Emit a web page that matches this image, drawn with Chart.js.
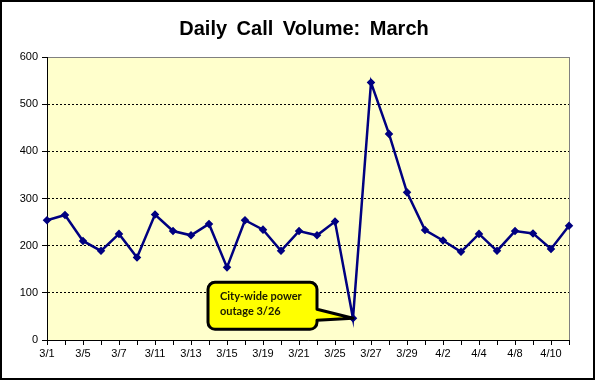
<!DOCTYPE html>
<html>
<head>
<meta charset="utf-8">
<script src="https://cdn.jsdelivr.net/npm/chart.js@4"></script>
<style>
  html, body { margin: 0; padding: 0; background: #fff; }
  #wrap { width: 596px; height: 381px; position: relative; }
</style>
</head>
<body>
<div id="wrap"><canvas id="callChart"></canvas></div>
<script>
// weekdays only, March 2013 into April
const dayLabels = [
  "3/1", "3/4", "3/5", "3/6", "3/7", "3/8", "3/11", "3/12", "3/13", "3/14",
  "3/15", "3/18", "3/19", "3/20", "3/21", "3/22", "3/25", "3/26", "3/27", "3/28",
  "3/29", "4/1", "4/2", "4/3", "4/4", "4/5", "4/8", "4/9", "4/10", "4/11"
];
const callVolume = [
  254, 265, 210, 189, 225, 175, 266, 231, 222, 246,
  154, 254, 234, 189, 231, 222, 251, 46, 546, 437,
  313, 233, 211, 187, 225, 189, 231, 226, 193, 242
];
const outageIndex = 17;
const noteLines = ["City-wide power", "outage 3/26"];
const yMin = 0, yMax = 600, yStep = 100;

const frame = {
  id: "frame",
  beforeDraw(chart) {
    const { ctx, chartArea: a } = chart;
    ctx.save();
    ctx.fillStyle = "#fff";
    ctx.fillRect(0, 0, chart.width, chart.height);
    ctx.fillStyle = "#FFFFCC";
    ctx.fillRect(a.left, a.top, a.right - a.left, a.bottom - a.top);
    ctx.strokeStyle = "#808080";
    ctx.lineWidth = 1;
    ctx.strokeRect(a.left + 0.5, a.top + 0.5, a.right - a.left, a.bottom - a.top);
    ctx.strokeStyle = "#000";
    ctx.lineWidth = 2;
    ctx.strokeRect(1, 1, 593, 378);
    ctx.restore();
    // Excel spreads the title words a little
    ctx.wordSpacing = "4px";
  },
  beforeDatasetsDraw(chart) {
    chart.ctx.wordSpacing = "0px";
  }
};

const callout = {
  id: "callout",
  afterDatasetsDraw(chart) {
    const pt = chart.getDatasetMeta(0).data[outageIndex];
    if (!pt) return;
    const { ctx } = chart;
    const px = pt.x, py = pt.y;
    const left = px - 145, right = px - 36, top = py - 36, bottom = py + 11, r = 7;
    ctx.save();
    ctx.beginPath();
    ctx.moveTo(left + r, top);
    ctx.lineTo(right - r, top);
    ctx.arcTo(right, top, right, top + r, r);
    ctx.lineTo(right, py - 9);
    ctx.lineTo(px, py);
    ctx.lineTo(right, py + 2);
    ctx.lineTo(right, bottom - r);
    ctx.arcTo(right, bottom, right - r, bottom, r);
    ctx.lineTo(left + r, bottom);
    ctx.arcTo(left, bottom, left, bottom - r, r);
    ctx.lineTo(left, top + r);
    ctx.arcTo(left, top, left + r, top, r);
    ctx.closePath();
    ctx.fillStyle = "#FFFF00";
    ctx.fill();
    ctx.lineWidth = 3;
    ctx.lineJoin = "round";
    ctx.strokeStyle = "#000";
    ctx.stroke();
    ctx.fillStyle = "#1a1a00";
    ctx.font = "bold 11px Lato";
    ctx.textBaseline = "alphabetic";
    ctx.fillText(noteLines[0], left + 12, py - 18);
    ctx.fillText(noteLines[1], left + 12, py - 3);
    ctx.restore();
  }
};

new Chart(document.getElementById("callChart"), {
  type: "line",
  data: {
    labels: dayLabels,
    datasets: [{
      label: "Calls",
      data: callVolume,
      borderColor: "#000080",
      backgroundColor: "#000080",
      borderWidth: 2.5,
      pointStyle: "rectRot",
      pointRadius: 2.5,
      pointBackgroundColor: "#000080",
      pointBorderColor: "#000080",
      tension: 0
    }]
  },
  options: {
    responsive: true,
    maintainAspectRatio: false,
    devicePixelRatio: 1,
    animation: false,
    layout: { padding: { left: 12, right: 0, top: 0, bottom: 0 } },
    plugins: {
      legend: { display: false },
      tooltip: { enabled: false },
      title: {
        display: true,
        text: "Daily Call Volume: March",
        color: "#000",
        font: { family: "Liberation Sans", size: 20, weight: "bold" },
        padding: { top: 17, bottom: 16 }
      }
    },
    scales: {
      x: {
        offset: false,
        grid: { drawOnChartArea: false, drawTicks: true, tickLength: 5, tickColor: "#000", tickBorderDash: [] },
        border: { color: "#000", width: 1 },
        ticks: {
          autoSkip: false,
          maxRotation: 0,
          padding: 2,
          color: "#000",
          font: { family: "Liberation Sans", size: 11 }
        ,
          callback: (v, i) => (i % 2 === 0 ? dayLabels[i] : "")
        },
        afterFit: s => { s.height = 41; }
      },
      y: {
        min: yMin,
        max: yMax,
        grid: {
          color: c => (c.tick.value === yMin || c.tick.value === yMax ? "rgba(0,0,0,0)" : "#000"),
          borderDash: [2, 2],
          tickColor: "#000",
          tickLength: 5,
          tickBorderDash: []
        },
        border: { color: "#000", width: 1, dash: [2, 2] },
        ticks: {
          stepSize: yStep,
          padding: 4,
          color: "#000",
          font: { family: "Liberation Sans", size: 11 }
        },
        afterFit: s => { s.width = 35; }
      },
      // empty right-hand axis, only keeps the white margin right of the plot
      yPad: {
        position: "right",
        min: yMin,
        max: yMax,
        grid: { drawOnChartArea: false, drawTicks: false },
        border: { display: false },
        ticks: { display: false },
        afterFit: s => { s.width = 27; }
      }
    }
  },
  plugins: [frame, callout]
});
</script>
</body>
</html>
